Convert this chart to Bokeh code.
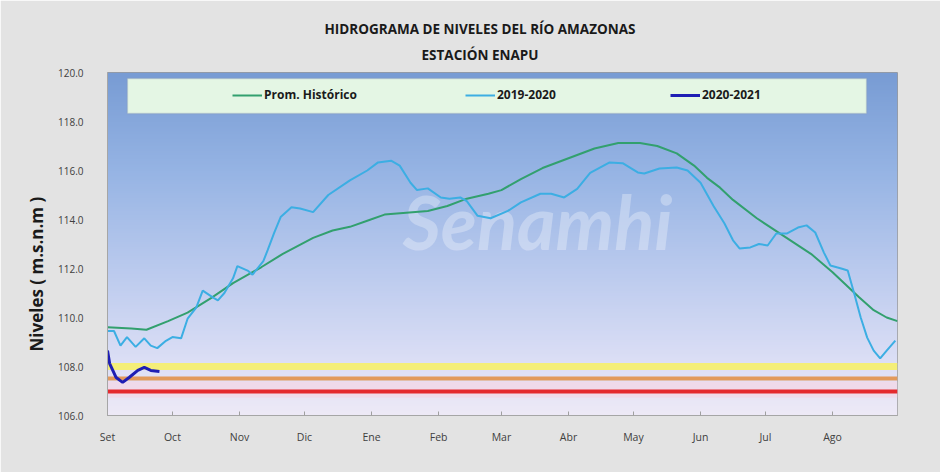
import math
import numpy as np
from bokeh.plotting import figure
from bokeh.models import (Range1d, FixedTicker, NumeralTickFormatter, Legend, LegendItem,
                          BoxAnnotation, Title)
from bokeh.core.properties import value
from bokeh.embed import file_html
from bokeh.resources import INLINE

# ---------------- data ----------------
month_labels = ["Set", "Oct", "Nov", "Dic", "Ene", "Feb", "Mar", "Abr", "May", "Jun", "Jul", "Ago"]
month_start_day = [0, 30, 61, 91, 122, 153, 182, 213, 243, 274, 304, 335]
y_ticks = [106, 108, 110, 112, 114, 116, 118, 120]

hist_day = [0, 11, 18, 28, 37, 48, 58, 71, 81, 95, 104, 112, 120, 128, 148, 157, 166, 176, 182,
            191, 201, 213, 225, 236, 246, 254, 263, 271, 277, 283, 289, 300, 312, 325, 335, 347,
            354, 360, 365]
hist_level = [109.6, 109.55, 109.5, 109.85, 110.2, 110.8, 111.4, 112.05, 112.6, 113.25, 113.55,
              113.7, 113.95, 114.2, 114.35, 114.55, 114.85, 115.05, 115.2, 115.65, 116.1, 116.5,
              116.9, 117.12, 117.12, 117.0, 116.7, 116.2, 115.7, 115.3, 114.8, 114.05, 113.35,
              112.6, 111.85, 110.85, 110.3, 110.0, 109.85]

s1920_day = [0, 3, 6, 9, 13, 17, 20, 23, 27, 30, 34, 37, 41, 44, 49, 51, 54, 58, 60, 65,
             67, 72, 74, 77, 80, 85, 89, 95, 102, 112, 120, 125, 131, 135, 140, 143, 148, 154,
             158, 163, 166, 171, 177, 185, 191, 200, 205, 211, 217, 223, 232, 238, 245, 248,
             255, 263, 268, 274, 280, 285, 289, 292, 297, 301, 305, 309, 314, 319, 323, 327,
             331, 334, 339, 342, 345, 348, 351, 354, 357, 360, 364]
s1920_level = [109.45, 109.45, 108.85, 109.2, 108.8, 109.15, 108.85, 108.75, 109.05, 109.2,
               109.15, 109.95, 110.4, 111.1, 110.8, 110.7, 111.0, 111.6, 112.1, 111.9,
               111.75, 112.3, 112.75, 113.45, 114.1, 114.5, 114.45, 114.3, 115.0, 115.6,
               116.0, 116.33, 116.4, 116.2, 115.5, 115.2, 115.27, 114.9, 114.85, 114.9,
               114.75, 114.15, 114.05, 114.35, 114.7, 115.05, 115.05, 114.9, 115.25, 115.9,
               116.33, 116.3, 115.92, 115.88, 116.08, 116.12, 116.0, 115.5, 114.55, 113.85,
               113.15, 112.82, 112.86, 113.0, 112.94, 113.43, 113.43, 113.67, 113.76, 113.47,
               112.65, 112.12, 112.0, 111.92, 110.98, 110.0, 109.18, 108.65, 108.33, 108.65,
               109.06]

s2021_day = [0, 1, 4, 7, 10, 14, 17, 20, 24]
s2021_level = [108.65, 108.12, 107.55, 107.35, 107.55, 107.84, 107.96, 107.84, 107.8]

threshold_levels = [108.0, 107.5, 107.0]

# ---------------- styles ----------------
FONT = "Open Sans"
GREEN = "#32A06E"
CYAN = "#3CAEE3"
DBLUE = "#1E1EB4"
threshold_colors = ["#F4EE78", "#E29A5C", "#E42A2E"]
threshold_widths = [7, 4, 4]

p = figure(width=940, height=472, output_backend="svg", toolbar_location=None,
           x_range=Range1d(0, 365), y_range=Range1d(106, 120),
           min_border_left=107, min_border_right=43, min_border_top=72, min_border_bottom=57,
           background_fill_color="#DCE2F2", border_fill_color="#E3E3E3",
           outline_line_color="#9A9A9A")

# gradient background
stops_y = [106, 108, 112, 116, 120]
stops_rgb = [(238, 234, 247), (222, 224, 246), (186, 202, 238), (150, 180, 228), (120, 156, 212)]
ny = 280
ys = np.linspace(106, 120, ny)
img = np.zeros((ny, 1), dtype=np.uint32)
view = img.view(dtype=np.uint8).reshape((ny, 1, 4))
for k in range(3):
    view[:, 0, k] = np.interp(ys, stops_y, [c[k] for c in stops_rgb]).astype(np.uint8)
view[:, 0, 3] = 255
p.image_rgba(image=[img], x=0, y=106, dw=365, dh=14)

# watermark
p.text(x=[198.7], y=[113.9], text=["Senamhi"], text_font=value("Lato"),
       text_font_style="bold italic", text_font_size="74px", text_color="white",
       text_alpha=0.3, text_align="center", text_baseline="middle")

# threshold bands
p.hstrip(y0=[106.75], y1=[107.4], fill_color="#F6D3E3", fill_alpha=0.6, line_color=None)
for lvl, col, w in zip(threshold_levels, threshold_colors, threshold_widths):
    p.hspan(y=[lvl], line_color=col, line_width=w)

r_hist = p.line(hist_day, hist_level, line_color=GREEN, line_width=2)
r_1920 = p.line(s1920_day, s1920_level, line_color=CYAN, line_width=2)
r_2021 = p.line(s2021_day, s2021_level, line_color=DBLUE, line_width=3)

# axes
p.xaxis.ticker = FixedTicker(ticks=month_start_day)
p.xaxis.major_label_overrides = {d: m for d, m in zip(month_start_day, month_labels)}
p.xaxis.minor_tick_line_color = None
p.xaxis.major_tick_in = 4
p.xaxis.major_tick_out = 0
p.xaxis.major_tick_line_color = "#A0A0A0"
p.xaxis.axis_line_color = "#A6A6A6"
p.xaxis.major_label_standoff = 14
p.xaxis.major_label_text_font_size = "10.5px"
p.yaxis.ticker = FixedTicker(ticks=y_ticks)
p.yaxis.formatter = NumeralTickFormatter(format="0.0")
p.yaxis.minor_tick_line_color = None
p.yaxis.major_tick_line_color = None
p.yaxis.major_tick_in = 0
p.yaxis.major_tick_out = 0
p.yaxis.axis_line_color = "#A6A6A6"
p.yaxis.major_label_standoff = 24
p.yaxis.major_label_text_font_size = "10px"
for ax in (p.xaxis, p.yaxis):
    ax.major_label_text_font = FONT
    ax.major_label_text_color = "#404040"

p.xgrid.grid_line_color = None
p.ygrid.grid_line_color = "#8691AB"
p.ygrid.grid_line_width = 1.5

# titles (p.title is the outermost one)
p.title.text = "HIDROGRAMA DE NIVELES DEL RÍO AMAZONAS"
p.title.align = "left"
p.title.offset = 217
try:
    p.title.standoff = -6
except Exception:
    p.title.standoff = 0
p.title.text_font = FONT
p.title.text_font_style = "bold"
p.title.text_font_size = "13.5px"
p.title.text_color = "#1A1A1A"
t2 = Title(text="ESTACIÓN ENAPU", align="left", offset=314, standoff=18,
           text_font=FONT, text_font_style="bold", text_font_size="13.5px", text_color="#1A1A1A")
p.add_layout(t2, "above")

# y axis label as a left-side title
p.add_layout(Title(text="Niveles ( m.s.n.m )", align="left", offset=64, standoff=16,
                   text_font=FONT, text_font_style="bold", text_font_size="17px",
                   text_color="#1A1A1A"), "left")

# legend box
p.add_layout(BoxAnnotation(left=9.2, right=350.7, top=119.755, bottom=118.33,
                           fill_color="#E4F6E4", fill_alpha=1.0,
                           line_color="#8A98B0", line_width=1.5))
for r, lbl, x in [(r_hist, "Prom. Histórico", 125), (r_1920, "2019-2020", 358),
                  (r_2021, "2020-2021", 563)]:
    lg = Legend(items=[LegendItem(label=lbl, renderers=[r])], location=(x, 312),
                orientation="horizontal", padding=0, margin=0, spacing=0,
                glyph_width=30, glyph_height=16, label_height=16, label_standoff=2,
                background_fill_alpha=0, border_line_color=None,
                label_text_font=FONT, label_text_font_style="bold",
                label_text_font_size="12px", label_text_color="#1A1A1A")
    p.add_layout(lg)

open("out.html", "w").write(file_html(p, INLINE))
